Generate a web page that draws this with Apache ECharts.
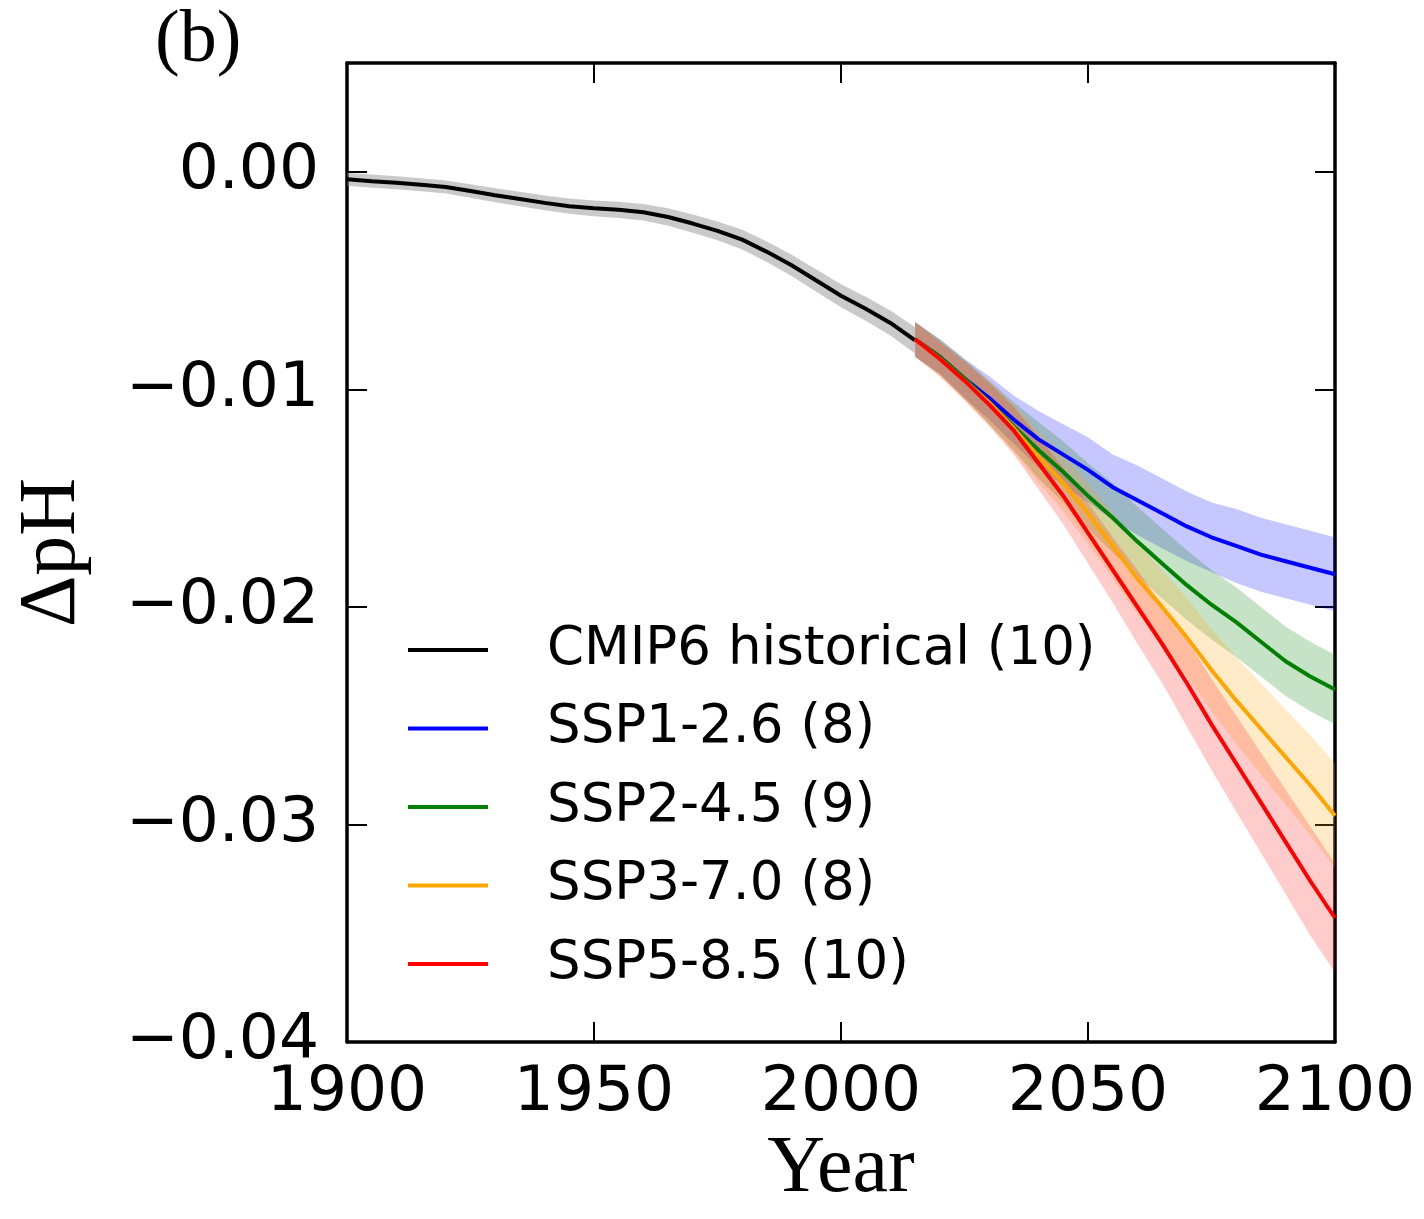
<!DOCTYPE html>
<html>
<head>
<meta charset="utf-8">
<script src="https://cdn.jsdelivr.net/npm/echarts@6/dist/echarts.min.js"></script>
<style>
  html, body { margin: 0; padding: 0; background: #fff; }
  #chart { width: 1424px; height: 1219px; }
</style>
</head>
<body>
<div id="chart"></div>
<script>
// historical ensemble mean (5-year steps)
const histYears = [1900, 1905, 1910, 1915, 1920, 1925, 1930, 1935, 1940, 1945, 1950, 1955,
  1960, 1965, 1970, 1975, 1980, 1985, 1990, 1995, 2000, 2005, 2010, 2015]
const histMean = [-0.00034, -0.00043, -0.00050, -0.00060, -0.00070, -0.00088, -0.00108, -0.00125,
  -0.00143, -0.00158, -0.00168, -0.00175, -0.00186, -0.00208, -0.00238, -0.00272,
  -0.00312, -0.00368, -0.00430, -0.00500, -0.00570, -0.00630, -0.00695, -0.00775]
const histSpread = [0.00030, 0.00030, 0.00030, 0.00030, 0.00030, 0.00031, 0.00032, 0.00033,
  0.00034, 0.00035, 0.00036, 0.00037, 0.00038, 0.00040, 0.00042, 0.00043,
  0.00045, 0.00047, 0.00049, 0.00051, 0.00053, 0.00055, 0.00057, 0.00060]

// scenarios 2015-2100
const sspYears = [2015, 2020, 2025, 2030, 2035, 2040, 2045, 2050, 2055, 2060, 2065, 2070,
  2075, 2080, 2085, 2090, 2095, 2100]
const ssp126 = [-0.0077, -0.0085, -0.0095, -0.0104, -0.0114, -0.0123, -0.0130, -0.0137, -0.0145,
  -0.0151, -0.0157, -0.0163, -0.0168, -0.0172, -0.0176, -0.0179, -0.0182, -0.0185]
const ssp245 = [-0.0077, -0.0085, -0.0095, -0.0106, -0.0117, -0.0128, -0.0138, -0.0149, -0.0159,
  -0.0170, -0.0180, -0.0190, -0.0199, -0.0207, -0.0216, -0.0225, -0.0232, -0.0238]
const ssp370 = [-0.0077, -0.0086, -0.0096, -0.0106, -0.0118, -0.0131, -0.0143, -0.0157, -0.0172,
  -0.0187, -0.0200, -0.0214, -0.0229, -0.0243, -0.0256, -0.0269, -0.0282, -0.0296]
const ssp585 = [-0.0077, -0.0086, -0.0096, -0.0107, -0.0119, -0.0134, -0.0149, -0.0166, -0.0183,
  -0.0200, -0.0217, -0.0235, -0.0254, -0.0272, -0.0290, -0.0308, -0.0326, -0.0343]

// half-width of the shaded spread
const ssp126Spread = [0.0008, 0.0008, 0.0009, 0.0010, 0.0011, 0.0013, 0.0014, 0.0015, 0.0015,
  0.0016, 0.0016, 0.0016, 0.0016, 0.0017, 0.0017, 0.0017, 0.0017, 0.0017]
const ssp245Spread = [0.0008, 0.0008, 0.0009, 0.0010, 0.0011, 0.0013, 0.0014, 0.0015, 0.0016,
  0.0016, 0.0016, 0.0016, 0.0016, 0.0016, 0.0016, 0.0016, 0.0016, 0.0016]
const ssp370Spread = [0.0008, 0.0008, 0.0009, 0.0010, 0.0011, 0.0012, 0.0013, 0.0014, 0.0015,
  0.0016, 0.0017, 0.0018, 0.0019, 0.0020, 0.0021, 0.0022, 0.0023, 0.0024]
const ssp585Spread = [0.0008, 0.0008, 0.0009, 0.0010, 0.0011, 0.0012, 0.0013, 0.0014, 0.0015,
  0.0017, 0.0018, 0.0020, 0.0021, 0.0022, 0.0023, 0.0024, 0.0025, 0.0025]

const legendNames = ['CMIP6 historical (10)', 'SSP1-2.6 (8)', 'SSP2-4.5 (9)', 'SSP3-7.0 (8)', 'SSP5-8.5 (10)']
const xTicks = { min: 1900, max: 2100, step: 50 }
const yTicks = { min: -0.04, max: 0.005, step: 0.01 }

const chart = echarts.init(document.getElementById('chart'))

// spread as a polygon drawn through the axes
function band(years, mean, spread, fill) {
  const upper = years.map((y, i) => [y, mean[i] + spread[i]])
  const lower = years.map((y, i) => [y, mean[i] - spread[i]]).reverse()
  const pts = upper.concat(lower)
  return {
    type: 'custom',
    silent: true,
    data: [[years[0], mean[0]]],
    renderItem: (params, api) => ({
      type: 'polygon',
      shape: { points: pts.map(p => api.coord(p)) },
      style: { fill: fill, stroke: null }
    })
  }
}

function line(name, years, vals, color) {
  return {
    name: name,
    type: 'line',
    symbol: 'none',
    silent: true,
    data: years.map((y, i) => [y, vals[i]]),
    lineStyle: { color: color, width: 4 },
    itemStyle: { color: color }
  }
}

const fmtY = v => {
  const r = Math.round(v * 100) / 100
  if (Math.abs(r) < 1e-9) return '0.00'
  return (r < 0 ? '\u2212' : '') + Math.abs(r).toFixed(2)
}

const frame = { show: true, onZero: false, lineStyle: { color: '#000', width: 3.5 } }
const tick = { show: true, inside: true, length: 20, lineStyle: { color: '#000', width: 2 } }

chart.setOption({
  animation: false,
  title: {
    text: '(b)', left: 150, top: 0,
    textStyle: { fontFamily: 'Liberation Serif', fontSize: 74, fontWeight: 'normal', color: '#000' }
  },
  grid: { left: 347, right: 89, top: 63, bottom: 177, containLabel: false, outerBoundsMode: 'none' },
  legend: {
    orient: 'vertical', left: 408, top: 620, padding: 0,
    icon: 'rect', itemWidth: 80, itemHeight: 4, itemGap: 18.5,
    selectedMode: false,
    data: legendNames,
    textStyle: { fontFamily: 'DejaVu Sans', fontSize: 53, color: '#000', lineHeight: 60, padding: [0, 0, 0, 54] }
  },
  xAxis: [{
    type: 'value', min: xTicks.min, max: xTicks.max, interval: xTicks.step,
    axisLine: frame, axisTick: tick, splitLine: { show: false },
    axisLabel: { fontFamily: 'DejaVu Sans', fontSize: 63, color: '#000', margin: 20, formatter: v => String(v) },
    name: 'Year', nameLocation: 'middle', nameGap: 88,
    nameTextStyle: { fontFamily: 'Liberation Serif', fontSize: 80, color: '#000' }
  }, {
    type: 'value', position: 'top', min: xTicks.min, max: xTicks.max, interval: xTicks.step,
    axisLine: frame, axisTick: tick, splitLine: { show: false }, axisLabel: { show: false }
  }],
  yAxis: [{
    type: 'value', min: yTicks.min, max: yTicks.max, interval: yTicks.step,
    axisLine: frame, axisTick: tick, splitLine: { show: false },
    axisLabel: { fontFamily: 'DejaVu Sans', fontSize: 63, color: '#000', margin: 28, showMaxLabel: false, formatter: fmtY },
    name: '\u0394pH', nameLocation: 'middle', nameGap: 254, nameRotate: 90,
    nameTextStyle: { fontFamily: 'Liberation Serif', fontSize: 80, color: '#000' }
  }, {
    type: 'value', position: 'right', min: yTicks.min, max: yTicks.max, interval: yTicks.step,
    axisLine: frame, axisTick: tick, splitLine: { show: false }, axisLabel: { show: false }
  }],
  series: [
    band(histYears, histMean, histSpread, 'rgba(128,128,128,0.42)'),
    band(sspYears, ssp126, ssp126Spread, 'rgba(0,0,255,0.22)'),
    band(sspYears, ssp245, ssp245Spread, 'rgba(0,128,0,0.22)'),
    band(sspYears, ssp370, ssp370Spread, 'rgba(255,165,0,0.22)'),
    band(sspYears, ssp585, ssp585Spread, 'rgba(255,0,0,0.2)'),
    line(legendNames[0], histYears, histMean, '#000000'),
    line(legendNames[1], sspYears, ssp126, '#0000ff'),
    line(legendNames[2], sspYears, ssp245, '#008000'),
    line(legendNames[3], sspYears, ssp370, '#ffa500'),
    line(legendNames[4], sspYears, ssp585, '#ff0000')
  ]
})
</script>
</body>
</html>
